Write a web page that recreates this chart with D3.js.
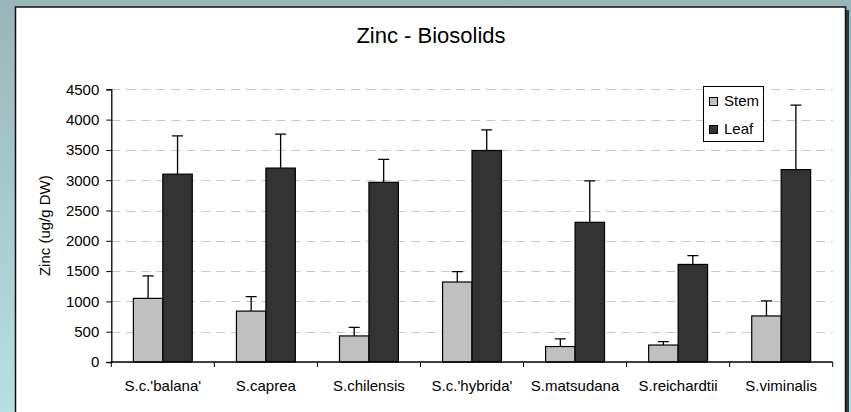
<!DOCTYPE html>
<html>
<head>
<meta charset="utf-8">
<script src="https://cdn.jsdelivr.net/npm/d3@7"></script>
<style>
    html, body { margin: 0; padding: 0; }
    body { width: 851px; height: 412px; overflow: hidden; }
    svg { display: block; font-family: Arial, "Liberation Sans", sans-serif; }
</style>
</head>
<body>
<div id="chart"></div>
<script>
var categories = ["S.c.'balana'", "S.caprea", "S.chilensis", "S.c.'hybrida'", "S.matsudana", "S.reichardtii", "S.viminalis"];
var stemValues = [1050, 840, 430, 1320, 255, 280, 760];
var stemErrors = [370, 240, 140, 170, 125, 55, 250];
var leafValues = [3100, 3200, 2965, 3490, 2305, 1610, 3175];
var leafErrors = [630, 560, 380, 340, 685, 145, 1065];
var yTicks = [0, 500, 1000, 1500, 2000, 2500, 3000, 3500, 4000, 4500];
var seriesNames = ["Stem", "Leaf"];
var seriesColors = ["#c0c0c0", "#333333"];

function drawChart() {
    var width = 851,
        height = 412,
        plot = {left: 111.3, right: 832.7, top: 89.3, bottom: 362};

    var svg = d3.select("#chart")
                .append("svg")
                .attr("width", width)
                .attr("height", height);

    // teal backdrop behind the white chart card
    var grad = svg.append("defs")
                .append("linearGradient")
                .attr("id", "bg")
                .attr("x1", 0).attr("y1", 0)
                .attr("x2", 0).attr("y2", 1);
    grad.append("stop").attr("offset", "0%").attr("stop-color", "#98b6b7");
    grad.append("stop").attr("offset", "100%").attr("stop-color", "#b8dfe3");

    svg.append("rect")
        .attr("width", width)
        .attr("height", height)
        .attr("fill", "url(#bg)");

    svg.append("rect")
        .attr("x", 18).attr("y", 10)
        .attr("width", 831).attr("height", 420)
        .attr("fill", "#2e3a3a");

    svg.append("rect")
        .attr("x", 15.5).attr("y", 7)
        .attr("width", 830).attr("height", 420)
        .attr("fill", "#ffffff")
        .attr("stroke", "#111")
        .attr("stroke-width", 1.5);

    var x = d3.scaleBand()
            .domain(categories)
            .range([plot.left, plot.right])
            .padding(0);

    var y = d3.scaleLinear()
            .domain([0, 4500])
            .range([plot.bottom, plot.top]);

    var barWidth = x.step() / 3.5;

    // dashed grid lines
    svg.append("g")
        .attr("class", "grid")
        .selectAll("line")
        .data(yTicks.slice(1))
        .enter()
        .append("line")
        .attr("x1", plot.left)
        .attr("x2", plot.right)
        .attr("y1", function(d) { return Math.round(y(d)) + 0.5; })
        .attr("y2", function(d) { return Math.round(y(d)) + 0.5; })
        .attr("stroke", "#c8c8c8")
        .attr("stroke-width", 1)
        .attr("stroke-dasharray", "9,6");

    var series = [
        {name: seriesNames[0], values: stemValues, errors: stemErrors, color: seriesColors[0], offset: -1},
        {name: seriesNames[1], values: leafValues, errors: leafErrors, color: seriesColors[1], offset: 0}
    ];

    series.forEach(function(s) {
        var rows = categories.map(function(c, i) {
            return {cat: c, value: s.values[i], err: s.errors[i]};
        });

        var g = svg.append("g").attr("class", "series");

        g.selectAll("rect")
            .data(rows)
            .enter()
            .append("rect")
            .attr("x", function(d) { return x(d.cat) + x.bandwidth() / 2 + s.offset * barWidth; })
            .attr("y", function(d) { return y(d.value); })
            .attr("width", barWidth)
            .attr("height", function(d) { return y(0) - y(d.value); })
            .attr("fill", s.color)
            .attr("stroke", "#000")
            .attr("stroke-width", 1.2);

        // error bars, upper half only
        g.selectAll(".err")
            .data(rows)
            .enter()
            .append("path")
            .attr("class", "err")
            .attr("d", function(d) {
                var cx = x(d.cat) + x.bandwidth() / 2 + s.offset * barWidth + barWidth / 2,
                    y0 = y(d.value),
                    y1 = y(d.value + d.err);
                return "M" + cx + "," + y0 + "V" + y1 + "M" + (cx - 5.5) + "," + y1 + "H" + (cx + 5.5);
            })
            .attr("fill", "none")
            .attr("stroke", "#000")
            .attr("stroke-width", 1.3);
    });

    // y axis
    var yAxis = svg.append("g")
                .attr("transform", "translate(" + plot.left + ",0)")
                .call(d3.axisLeft(y).tickValues(yTicks).tickFormat(d3.format("d")).tickSize(5).tickPadding(7));
    yAxis.select(".domain").attr("stroke", "#000").attr("stroke-width", 1.3);
    yAxis.selectAll(".tick line").attr("stroke", "#000");
    yAxis.selectAll("text")
        .attr("font-size", 15)
        .attr("font-family", "Arial, 'Liberation Sans', sans-serif")
        .attr("fill", "#000");

    // x axis with ticks between categories
    var xAxis = svg.append("g")
                .attr("transform", "translate(0," + plot.bottom + ")");
    xAxis.append("line")
        .attr("x1", plot.left).attr("x2", plot.right)
        .attr("stroke", "#000").attr("stroke-width", 1.3);
    xAxis.selectAll(".xtick")
        .data(categories.concat([null]))
        .enter()
        .append("line")
        .attr("class", "xtick")
        .attr("x1", function(d, i) { return plot.left + i * x.step(); })
        .attr("x2", function(d, i) { return plot.left + i * x.step(); })
        .attr("y1", 0).attr("y2", 5)
        .attr("stroke", "#000");
    xAxis.selectAll(".xlabel")
        .data(categories)
        .enter()
        .append("text")
        .attr("class", "xlabel")
        .attr("x", function(d) { return x(d) + x.bandwidth() / 2; })
        .attr("y", 29)
        .attr("text-anchor", "middle")
        .attr("font-size", 15)
        .text(function(d) { return d; });

    svg.append("text")
        .attr("transform", "translate(50," + ((plot.top + plot.bottom) / 2) + ") rotate(-90)")
        .attr("text-anchor", "middle")
        .attr("font-size", 15)
        .text("Zinc (ug/g DW)");

    svg.append("text")
        .attr("x", 431)
        .attr("y", 43)
        .attr("text-anchor", "middle")
        .attr("font-size", 22)
        .text("Zinc - Biosolids");

    // legend
    var legend = svg.append("g").attr("transform", "translate(703.5,86.5)");
    legend.append("rect")
        .attr("width", 60)
        .attr("height", 55)
        .attr("fill", "#fff")
        .attr("stroke", "#000");
    var items = legend.selectAll(".item")
                .data(series)
                .enter()
                .append("g")
                .attr("class", "item")
                .attr("transform", function(d, i) { return "translate(6," + (11 + i * 28) + ")"; });
    items.append("rect")
        .attr("width", 8)
        .attr("height", 8)
        .attr("fill", function(d) { return d.color; })
        .attr("stroke", "#000");
    items.append("text")
        .attr("x", 14.5)
        .attr("y", 8)
        .attr("font-size", 15)
        .text(function(d) { return d.name; });
}

drawChart();
</script>
</body>
</html>
